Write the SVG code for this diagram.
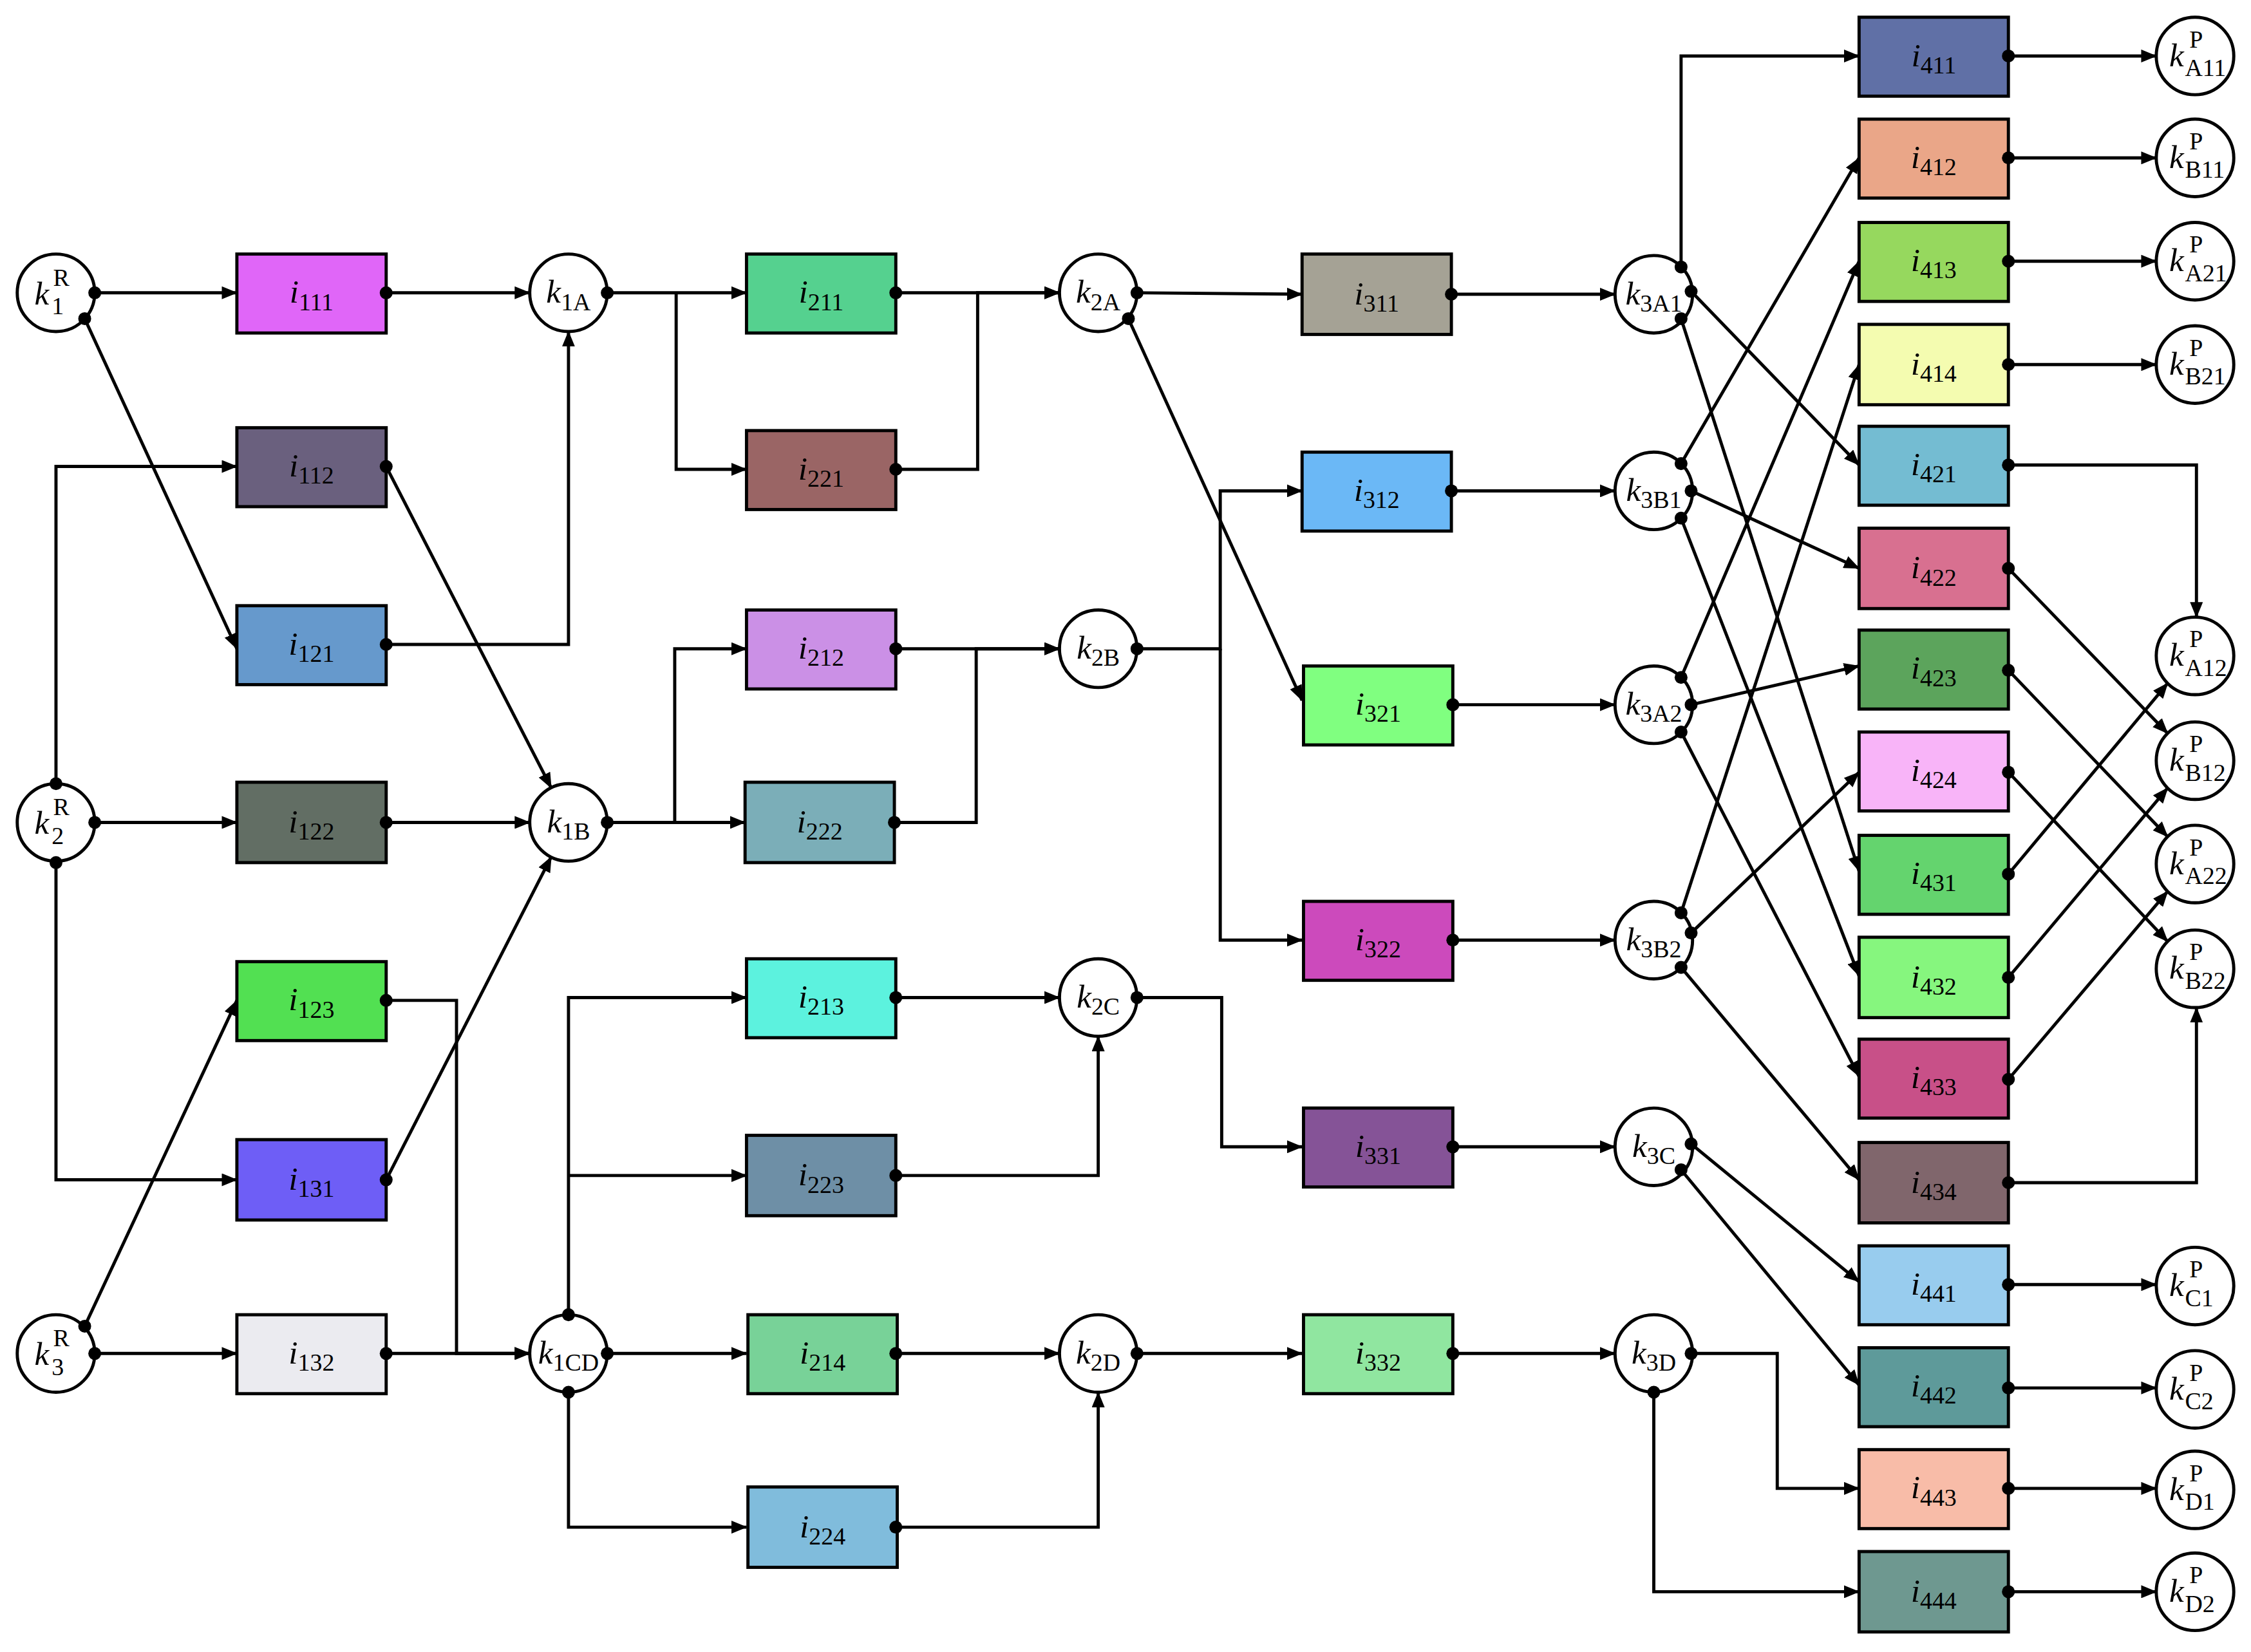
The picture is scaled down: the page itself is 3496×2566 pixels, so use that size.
<svg xmlns="http://www.w3.org/2000/svg" width="3496" height="2566" viewBox="0 0 3496 2566">
<style>
.n{stroke:#000;stroke-width:2.2}
.c{fill:#fff;stroke:#000;stroke-width:2.2}
.t{font-family:"Liberation Serif","DejaVu Serif",serif;font-size:23px;fill:#000}
.it{font-style:italic}
.sb{font-size:17px}
.e{fill:none;stroke:#000;stroke-width:2.2;marker-end:url(#a)}
.d{fill:#000}
</style>
<defs>
<marker id="a" markerUnits="userSpaceOnUse" markerWidth="11" markerHeight="9" refX="10.5" refY="4.5" orient="auto"><path d="M0,0 L11,4.5 L0,9 z" fill="#000"/></marker>
</defs>
<rect width="3496" height="2566" fill="#fff"/>
<g transform="scale(2.2296,2.2294)">
<g id="connectors">
<path class="e" d="M66,204 H165"/><path class="e" d="M59,222 L165,452"/>
<path class="e" d="M39,546 V325 H165"/><path class="e" d="M66,573 H165"/><path class="e" d="M39,601 V822 H165"/>
<path class="e" d="M59,924 L165,697"/><path class="e" d="M66,943 H165"/>
<path class="e" d="M269,204 H369"/><path class="e" d="M269,449 H396 V231"/>
<path class="e" d="M269,325 L384,549"/><path class="e" d="M269,573 H369"/><path class="e" d="M269,822 L384,597"/>
<path class="e" d="M269,697 H318 V943 H369"/><path class="e" d="M269,943 H369"/>
<path class="e" d="M423,204 H520"/><path class="e" d="M471,204 V327 H520"/>
<path class="e" d="M423,573 H470 V452 H520"/><path class="e" d="M423,573 H519"/>
<path class="e" d="M396,916 V695 H520"/><path class="e" d="M396,819 H520"/><path class="e" d="M423,943 H520"/><path class="e" d="M396,970 V1064 H520"/>
<path class="e" d="M624,204 H738"/><path class="e" d="M624,327 H681 V204 H738"/>
<path class="e" d="M624,452 H738"/><path class="e" d="M623,573 H680 V452 H738"/>
<path class="e" d="M624,695 H738"/><path class="e" d="M624,819 H765 V722"/>
<path class="e" d="M624,943 H738"/><path class="e" d="M624,1064 H765 V970"/>
<path class="e" d="M792,204 L907,205"/><path class="e" d="M786,222 L907,488"/>
<path class="e" d="M792,452 H850 V342 H907"/><path class="e" d="M850,452 V655 H907"/>
<path class="e" d="M792,695 H851 V799 H907"/><path class="e" d="M792,943 H907"/>
<path class="e" d="M1011,205 H1125"/><path class="e" d="M1011,342 H1125"/><path class="e" d="M1011,491 H1125"/>
<path class="e" d="M1011,655 H1125"/><path class="e" d="M1011,799 H1125"/><path class="e" d="M1011,943 H1125"/>
<path class="e" d="M1171,186 V39 H1295"/><path class="e" d="M1178,203 L1295,324"/><path class="e" d="M1171,222 L1295,607"/>
<path class="e" d="M1171,323 L1295,110"/><path class="e" d="M1178,342 L1295,396"/><path class="e" d="M1171,361 L1295,680"/>
<path class="e" d="M1171,472 L1295,182"/><path class="e" d="M1178,491 L1295,464"/><path class="e" d="M1171,510 L1295,750"/>
<path class="e" d="M1171,636 L1295,254"/><path class="e" d="M1178,650 L1295,538"/><path class="e" d="M1171,674 L1295,822"/>
<path class="e" d="M1178,797 L1295,893"/><path class="e" d="M1171,815 L1295,965"/>
<path class="e" d="M1178,943 H1238 V1037 H1295"/><path class="e" d="M1152,970 V1109 H1295"/>
<path class="e" d="M1399,39 H1502"/><path class="e" d="M1399,110 H1502"/><path class="e" d="M1399,182 H1502"/><path class="e" d="M1399,254 H1502"/>
<path class="e" d="M1399,324 H1530 V430"/><path class="e" d="M1399,396 L1510,511"/><path class="e" d="M1399,467 L1510,583"/><path class="e" d="M1399,538 L1510,656"/>
<path class="e" d="M1399,609 L1510,476"/><path class="e" d="M1399,681 L1510,549"/><path class="e" d="M1399,752 L1510,621"/><path class="e" d="M1399,824 H1530 V702"/>
<path class="e" d="M1399,895 H1502"/><path class="e" d="M1399,967 H1502"/><path class="e" d="M1399,1037 H1502"/><path class="e" d="M1399,1109 H1502"/>
</g>
<g id="nodes">
<g id="k1R"><circle class="c" cx="39" cy="204" r="27"/><text class="t"><tspan class="it" x="24" y="212">k</tspan><tspan class="sb" x="37" y="199">R</tspan><tspan class="sb" x="36" y="219">1</tspan></text></g>
<g id="k2R"><circle class="c" cx="39" cy="573" r="27"/><text class="t"><tspan class="it" x="24" y="581">k</tspan><tspan class="sb" x="37" y="568">R</tspan><tspan class="sb" x="36" y="588">2</tspan></text></g>
<g id="k3R"><circle class="c" cx="39" cy="943" r="27"/><text class="t"><tspan class="it" x="24" y="951">k</tspan><tspan class="sb" x="37" y="938">R</tspan><tspan class="sb" x="36" y="958">3</tspan></text></g>
<g id="i111"><rect class="n" fill="#E066F8" x="165" y="177" width="104" height="55"/><text class="t" x="217" y="211" text-anchor="middle"><tspan class="it">i</tspan><tspan class="sb" dy="5">111</tspan></text></g>
<g id="i112"><rect class="n" fill="#6A607E" x="165" y="298" width="104" height="55"/><text class="t" x="217" y="332" text-anchor="middle"><tspan class="it">i</tspan><tspan class="sb" dy="5">112</tspan></text></g>
<g id="i121"><rect class="n" fill="#6699CC" x="165" y="422" width="104" height="55"/><text class="t" x="217" y="456" text-anchor="middle"><tspan class="it">i</tspan><tspan class="sb" dy="5">121</tspan></text></g>
<g id="i122"><rect class="n" fill="#626E64" x="165" y="545" width="104" height="56"/><text class="t" x="217" y="580" text-anchor="middle"><tspan class="it">i</tspan><tspan class="sb" dy="5">122</tspan></text></g>
<g id="i123"><rect class="n" fill="#52E052" x="165" y="670" width="104" height="55"/><text class="t" x="217" y="704" text-anchor="middle"><tspan class="it">i</tspan><tspan class="sb" dy="5">123</tspan></text></g>
<g id="i131"><rect class="n" fill="#6E5EF6" x="165" y="794" width="104" height="56"/><text class="t" x="217" y="829" text-anchor="middle"><tspan class="it">i</tspan><tspan class="sb" dy="5">131</tspan></text></g>
<g id="i132"><rect class="n" fill="#EBEBF0" x="165" y="916" width="104" height="55"/><text class="t" x="217" y="950" text-anchor="middle"><tspan class="it">i</tspan><tspan class="sb" dy="5">132</tspan></text></g>
<g id="k1A"><circle class="c" cx="396" cy="204" r="27"/><text class="t" x="396" y="211" text-anchor="middle"><tspan class="it">k</tspan><tspan class="sb" dy="5">1A</tspan></text></g>
<g id="k1B"><circle class="c" cx="396" cy="573" r="27"/><text class="t" x="396" y="580" text-anchor="middle"><tspan class="it">k</tspan><tspan class="sb" dy="5">1B</tspan></text></g>
<g id="k1CD"><circle class="c" cx="396" cy="943" r="27"/><text class="t" x="396" y="950" text-anchor="middle"><tspan class="it">k</tspan><tspan class="sb" dy="5">1CD</tspan></text></g>
<g id="i211"><rect class="n" fill="#55D18F" x="520" y="177" width="104" height="55"/><text class="t" x="572" y="211" text-anchor="middle"><tspan class="it">i</tspan><tspan class="sb" dy="5">211</tspan></text></g>
<g id="i221"><rect class="n" fill="#9A6565" x="520" y="300" width="104" height="55"/><text class="t" x="572" y="334" text-anchor="middle"><tspan class="it">i</tspan><tspan class="sb" dy="5">221</tspan></text></g>
<g id="i212"><rect class="n" fill="#CB90E6" x="520" y="425" width="104" height="55"/><text class="t" x="572" y="459" text-anchor="middle"><tspan class="it">i</tspan><tspan class="sb" dy="5">212</tspan></text></g>
<g id="i222"><rect class="n" fill="#7BAEB8" x="519" y="545" width="104" height="56"/><text class="t" x="571" y="580" text-anchor="middle"><tspan class="it">i</tspan><tspan class="sb" dy="5">222</tspan></text></g>
<g id="i213"><rect class="n" fill="#5CF2DE" x="520" y="668" width="104" height="55"/><text class="t" x="572" y="702" text-anchor="middle"><tspan class="it">i</tspan><tspan class="sb" dy="5">213</tspan></text></g>
<g id="i223"><rect class="n" fill="#6E8FA6" x="520" y="791" width="104" height="56"/><text class="t" x="572" y="826" text-anchor="middle"><tspan class="it">i</tspan><tspan class="sb" dy="5">223</tspan></text></g>
<g id="i214"><rect class="n" fill="#78D298" x="521" y="916" width="104" height="55"/><text class="t" x="573" y="950" text-anchor="middle"><tspan class="it">i</tspan><tspan class="sb" dy="5">214</tspan></text></g>
<g id="i224"><rect class="n" fill="#80BCDC" x="521" y="1036" width="104" height="56"/><text class="t" x="573" y="1071" text-anchor="middle"><tspan class="it">i</tspan><tspan class="sb" dy="5">224</tspan></text></g>
<g id="k2A"><circle class="c" cx="765" cy="204" r="27"/><text class="t" x="765" y="211" text-anchor="middle"><tspan class="it">k</tspan><tspan class="sb" dy="5">2A</tspan></text></g>
<g id="k2B"><circle class="c" cx="765" cy="452" r="27"/><text class="t" x="765" y="459" text-anchor="middle"><tspan class="it">k</tspan><tspan class="sb" dy="5">2B</tspan></text></g>
<g id="k2C"><circle class="c" cx="765" cy="695" r="27"/><text class="t" x="765" y="702" text-anchor="middle"><tspan class="it">k</tspan><tspan class="sb" dy="5">2C</tspan></text></g>
<g id="k2D"><circle class="c" cx="765" cy="943" r="27"/><text class="t" x="765" y="950" text-anchor="middle"><tspan class="it">k</tspan><tspan class="sb" dy="5">2D</tspan></text></g>
<g id="i311"><rect class="n" fill="#A5A295" x="907" y="177" width="104" height="56"/><text class="t" x="959" y="212" text-anchor="middle"><tspan class="it">i</tspan><tspan class="sb" dy="5">311</tspan></text></g>
<g id="i312"><rect class="n" fill="#6BB8F6" x="907" y="315" width="104" height="55"/><text class="t" x="959" y="349" text-anchor="middle"><tspan class="it">i</tspan><tspan class="sb" dy="5">312</tspan></text></g>
<g id="i321"><rect class="n" fill="#80FF80" x="908" y="464" width="104" height="55"/><text class="t" x="960" y="498" text-anchor="middle"><tspan class="it">i</tspan><tspan class="sb" dy="5">321</tspan></text></g>
<g id="i322"><rect class="n" fill="#CC4ABC" x="908" y="628" width="104" height="55"/><text class="t" x="960" y="662" text-anchor="middle"><tspan class="it">i</tspan><tspan class="sb" dy="5">322</tspan></text></g>
<g id="i331"><rect class="n" fill="#855397" x="908" y="772" width="104" height="55"/><text class="t" x="960" y="806" text-anchor="middle"><tspan class="it">i</tspan><tspan class="sb" dy="5">331</tspan></text></g>
<g id="i332"><rect class="n" fill="#90E6A0" x="908" y="916" width="104" height="55"/><text class="t" x="960" y="950" text-anchor="middle"><tspan class="it">i</tspan><tspan class="sb" dy="5">332</tspan></text></g>
<g id="k3A1"><circle class="c" cx="1152" cy="205" r="27"/><text class="t" x="1152" y="212" text-anchor="middle"><tspan class="it">k</tspan><tspan class="sb" dy="5">3A1</tspan></text></g>
<g id="k3B1"><circle class="c" cx="1152" cy="342" r="27"/><text class="t" x="1152" y="349" text-anchor="middle"><tspan class="it">k</tspan><tspan class="sb" dy="5">3B1</tspan></text></g>
<g id="k3A2"><circle class="c" cx="1152" cy="491" r="27"/><text class="t" x="1152" y="498" text-anchor="middle"><tspan class="it">k</tspan><tspan class="sb" dy="5">3A2</tspan></text></g>
<g id="k3B2"><circle class="c" cx="1152" cy="655" r="27"/><text class="t" x="1152" y="662" text-anchor="middle"><tspan class="it">k</tspan><tspan class="sb" dy="5">3B2</tspan></text></g>
<g id="k3C"><circle class="c" cx="1152" cy="799" r="27"/><text class="t" x="1152" y="806" text-anchor="middle"><tspan class="it">k</tspan><tspan class="sb" dy="5">3C</tspan></text></g>
<g id="k3D"><circle class="c" cx="1152" cy="943" r="27"/><text class="t" x="1152" y="950" text-anchor="middle"><tspan class="it">k</tspan><tspan class="sb" dy="5">3D</tspan></text></g>
<g id="i411"><rect class="n" fill="#6070A6" x="1295" y="12" width="104" height="55"/><text class="t" x="1347" y="46" text-anchor="middle"><tspan class="it">i</tspan><tspan class="sb" dy="5">411</tspan></text></g>
<g id="i412"><rect class="n" fill="#EAA688" x="1295" y="83" width="104" height="55"/><text class="t" x="1347" y="117" text-anchor="middle"><tspan class="it">i</tspan><tspan class="sb" dy="5">412</tspan></text></g>
<g id="i413"><rect class="n" fill="#96D85E" x="1295" y="155" width="104" height="55"/><text class="t" x="1347" y="189" text-anchor="middle"><tspan class="it">i</tspan><tspan class="sb" dy="5">413</tspan></text></g>
<g id="i414"><rect class="n" fill="#F4FCB0" x="1295" y="226" width="104" height="56"/><text class="t" x="1347" y="261" text-anchor="middle"><tspan class="it">i</tspan><tspan class="sb" dy="5">414</tspan></text></g>
<g id="i421"><rect class="n" fill="#74BCD2" x="1295" y="297" width="104" height="55"/><text class="t" x="1347" y="331" text-anchor="middle"><tspan class="it">i</tspan><tspan class="sb" dy="5">421</tspan></text></g>
<g id="i422"><rect class="n" fill="#D87090" x="1295" y="368" width="104" height="56"/><text class="t" x="1347" y="403" text-anchor="middle"><tspan class="it">i</tspan><tspan class="sb" dy="5">422</tspan></text></g>
<g id="i423"><rect class="n" fill="#5CA45C" x="1295" y="439" width="104" height="55"/><text class="t" x="1347" y="473" text-anchor="middle"><tspan class="it">i</tspan><tspan class="sb" dy="5">423</tspan></text></g>
<g id="i424"><rect class="n" fill="#F8B4F8" x="1295" y="510" width="104" height="55"/><text class="t" x="1347" y="544" text-anchor="middle"><tspan class="it">i</tspan><tspan class="sb" dy="5">424</tspan></text></g>
<g id="i431"><rect class="n" fill="#64D46E" x="1295" y="582" width="104" height="55"/><text class="t" x="1347" y="616" text-anchor="middle"><tspan class="it">i</tspan><tspan class="sb" dy="5">431</tspan></text></g>
<g id="i432"><rect class="n" fill="#86F67E" x="1295" y="653" width="104" height="56"/><text class="t" x="1347" y="688" text-anchor="middle"><tspan class="it">i</tspan><tspan class="sb" dy="5">432</tspan></text></g>
<g id="i433"><rect class="n" fill="#C85088" x="1295" y="724" width="104" height="55"/><text class="t" x="1347" y="758" text-anchor="middle"><tspan class="it">i</tspan><tspan class="sb" dy="5">433</tspan></text></g>
<g id="i434"><rect class="n" fill="#80666C" x="1295" y="796" width="104" height="56"/><text class="t" x="1347" y="831" text-anchor="middle"><tspan class="it">i</tspan><tspan class="sb" dy="5">434</tspan></text></g>
<g id="i441"><rect class="n" fill="#98CCEE" x="1295" y="868" width="104" height="55"/><text class="t" x="1347" y="902" text-anchor="middle"><tspan class="it">i</tspan><tspan class="sb" dy="5">441</tspan></text></g>
<g id="i442"><rect class="n" fill="#5E9A9A" x="1295" y="939" width="104" height="55"/><text class="t" x="1347" y="973" text-anchor="middle"><tspan class="it">i</tspan><tspan class="sb" dy="5">442</tspan></text></g>
<g id="i443"><rect class="n" fill="#F8BCA8" x="1295" y="1010" width="104" height="55"/><text class="t" x="1347" y="1044" text-anchor="middle"><tspan class="it">i</tspan><tspan class="sb" dy="5">443</tspan></text></g>
<g id="i444"><rect class="n" fill="#6E9890" x="1295" y="1081" width="104" height="56"/><text class="t" x="1347" y="1116" text-anchor="middle"><tspan class="it">i</tspan><tspan class="sb" dy="5">444</tspan></text></g>
<g id="kA11"><circle class="c" cx="1529" cy="39" r="27"/><text class="t"><tspan class="it" x="1511" y="46">k</tspan><tspan class="sb" x="1525" y="33">P</tspan><tspan class="sb" x="1522" y="53">A11</tspan></text></g>
<g id="kB11"><circle class="c" cx="1529" cy="110" r="27"/><text class="t"><tspan class="it" x="1511" y="117">k</tspan><tspan class="sb" x="1525" y="104">P</tspan><tspan class="sb" x="1522" y="124">B11</tspan></text></g>
<g id="kA21"><circle class="c" cx="1529" cy="182" r="27"/><text class="t"><tspan class="it" x="1511" y="189">k</tspan><tspan class="sb" x="1525" y="176">P</tspan><tspan class="sb" x="1522" y="196">A21</tspan></text></g>
<g id="kB21"><circle class="c" cx="1529" cy="254" r="27"/><text class="t"><tspan class="it" x="1511" y="261">k</tspan><tspan class="sb" x="1525" y="248">P</tspan><tspan class="sb" x="1522" y="268">B21</tspan></text></g>
<g id="kA12"><circle class="c" cx="1529" cy="457" r="27"/><text class="t"><tspan class="it" x="1511" y="464">k</tspan><tspan class="sb" x="1525" y="451">P</tspan><tspan class="sb" x="1522" y="471">A12</tspan></text></g>
<g id="kB12"><circle class="c" cx="1529" cy="530" r="27"/><text class="t"><tspan class="it" x="1511" y="537">k</tspan><tspan class="sb" x="1525" y="524">P</tspan><tspan class="sb" x="1522" y="544">B12</tspan></text></g>
<g id="kA22"><circle class="c" cx="1529" cy="602" r="27"/><text class="t"><tspan class="it" x="1511" y="609">k</tspan><tspan class="sb" x="1525" y="596">P</tspan><tspan class="sb" x="1522" y="616">A22</tspan></text></g>
<g id="kB22"><circle class="c" cx="1529" cy="675" r="27"/><text class="t"><tspan class="it" x="1511" y="682">k</tspan><tspan class="sb" x="1525" y="669">P</tspan><tspan class="sb" x="1522" y="689">B22</tspan></text></g>
<g id="kC1"><circle class="c" cx="1529" cy="896" r="27"/><text class="t"><tspan class="it" x="1511" y="903">k</tspan><tspan class="sb" x="1525" y="890">P</tspan><tspan class="sb" x="1522" y="910">C1</tspan></text></g>
<g id="kC2"><circle class="c" cx="1529" cy="968" r="27"/><text class="t"><tspan class="it" x="1511" y="975">k</tspan><tspan class="sb" x="1525" y="962">P</tspan><tspan class="sb" x="1522" y="982">C2</tspan></text></g>
<g id="kD1"><circle class="c" cx="1529" cy="1038" r="27"/><text class="t"><tspan class="it" x="1511" y="1045">k</tspan><tspan class="sb" x="1525" y="1032">P</tspan><tspan class="sb" x="1522" y="1052">D1</tspan></text></g>
<g id="kD2"><circle class="c" cx="1529" cy="1109" r="27"/><text class="t"><tspan class="it" x="1511" y="1116">k</tspan><tspan class="sb" x="1525" y="1103">P</tspan><tspan class="sb" x="1522" y="1123">D2</tspan></text></g>
</g>
<g id="dots" class="d">
<circle cx="66" cy="204" r="4.5"/><circle cx="59" cy="222" r="4.5"/><circle cx="39" cy="546" r="4.5"/><circle cx="66" cy="573" r="4.5"/><circle cx="39" cy="601" r="4.5"/><circle cx="59" cy="924" r="4.5"/><circle cx="66" cy="943" r="4.5"/>
<circle cx="269" cy="204" r="4.5"/><circle cx="269" cy="325" r="4.5"/><circle cx="269" cy="449" r="4.5"/><circle cx="269" cy="573" r="4.5"/><circle cx="269" cy="697" r="4.5"/><circle cx="269" cy="822" r="4.5"/><circle cx="269" cy="943" r="4.5"/>
<circle cx="423" cy="204" r="4.5"/><circle cx="423" cy="573" r="4.5"/><circle cx="396" cy="916" r="4.5"/><circle cx="423" cy="943" r="4.5"/><circle cx="396" cy="970" r="4.5"/>
<circle cx="624" cy="204" r="4.5"/><circle cx="624" cy="327" r="4.5"/><circle cx="624" cy="452" r="4.5"/><circle cx="623" cy="573" r="4.5"/><circle cx="624" cy="695" r="4.5"/><circle cx="624" cy="819" r="4.5"/><circle cx="624" cy="943" r="4.5"/><circle cx="624" cy="1064" r="4.5"/>
<circle cx="792" cy="204" r="4.5"/><circle cx="786" cy="222" r="4.5"/><circle cx="792" cy="452" r="4.5"/><circle cx="792" cy="695" r="4.5"/><circle cx="792" cy="943" r="4.5"/>
<circle cx="1011" cy="205" r="4.5"/><circle cx="1011" cy="342" r="4.5"/><circle cx="1012" cy="491" r="4.5"/><circle cx="1012" cy="655" r="4.5"/><circle cx="1012" cy="799" r="4.5"/><circle cx="1012" cy="943" r="4.5"/>
<circle cx="1171" cy="186" r="4.5"/><circle cx="1178" cy="203" r="4.5"/><circle cx="1171" cy="222" r="4.5"/>
<circle cx="1171" cy="323" r="4.5"/><circle cx="1178" cy="342" r="4.5"/><circle cx="1171" cy="361" r="4.5"/>
<circle cx="1171" cy="472" r="4.5"/><circle cx="1178" cy="491" r="4.5"/><circle cx="1171" cy="510" r="4.5"/>
<circle cx="1171" cy="636" r="4.5"/><circle cx="1178" cy="650" r="4.5"/><circle cx="1171" cy="674" r="4.5"/>
<circle cx="1178" cy="797" r="4.5"/><circle cx="1171" cy="815" r="4.5"/><circle cx="1178" cy="943" r="4.5"/><circle cx="1152" cy="970" r="4.5"/>
<circle cx="1399" cy="39" r="4.5"/><circle cx="1399" cy="110" r="4.5"/><circle cx="1399" cy="182" r="4.5"/><circle cx="1399" cy="254" r="4.5"/>
<circle cx="1399" cy="324" r="4.5"/><circle cx="1399" cy="396" r="4.5"/><circle cx="1399" cy="467" r="4.5"/><circle cx="1399" cy="538" r="4.5"/>
<circle cx="1399" cy="609" r="4.5"/><circle cx="1399" cy="681" r="4.5"/><circle cx="1399" cy="752" r="4.5"/><circle cx="1399" cy="824" r="4.5"/>
<circle cx="1399" cy="895" r="4.5"/><circle cx="1399" cy="967" r="4.5"/><circle cx="1399" cy="1037" r="4.5"/><circle cx="1399" cy="1109" r="4.5"/>
</g>
</g>
</svg>
